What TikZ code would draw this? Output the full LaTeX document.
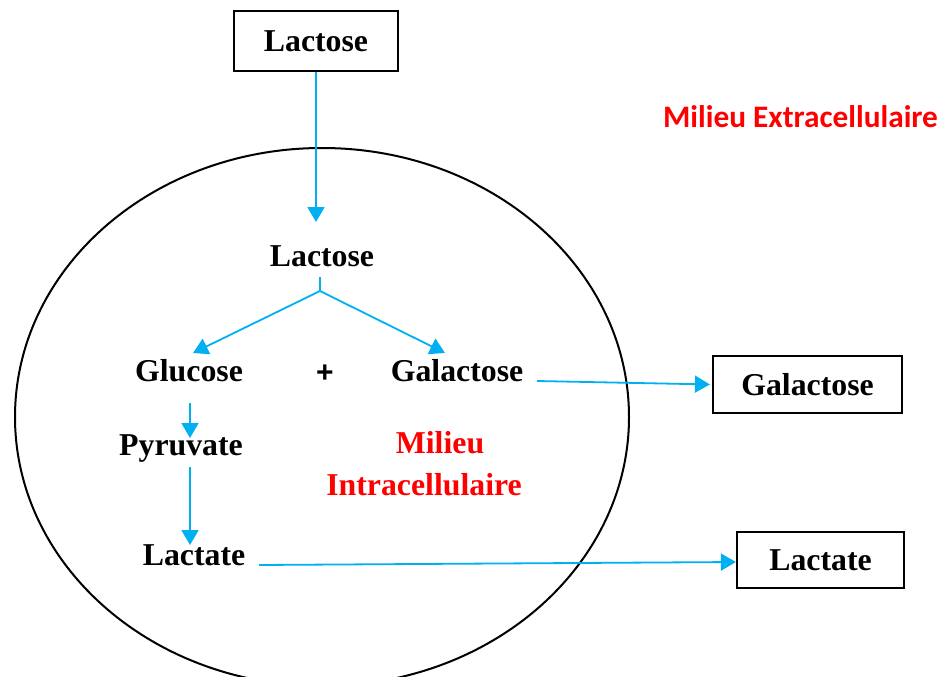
\documentclass[tikz,border=0pt]{standalone}
\usepackage{fontspec}
\setmainfont{Liberation Serif}
\newfontfamily\calibfont{Carlito}
\newfontfamily\plusfont{Liberation Sans}
\usetikzlibrary{arrows.meta,calc}
\definecolor{flowblue}{RGB}{0,176,240}
\definecolor{milieured}{RGB}{255,0,0}
\begin{document}
\begin{tikzpicture}[x=1pt,y=-1pt,
  lbl/.style={inner sep=0pt,anchor=base,font=\fontsize{31.8}{38}\selectfont\bfseries},
  boxnode/.style={draw,line width=2.2pt,inner sep=0pt,
    font=\fontsize{31.8}{38}\selectfont\bfseries},
  redlbl/.style={lbl,text=milieured},
  flow/.style={draw=flowblue,line width=1.8pt,
    -{Triangle[length=15pt,width=17pt]}},
  branch/.style={draw=flowblue,line width=1.8pt}]
\useasboundingbox (0,0) rectangle (946,677);
\clip (0,0) rectangle (946,677);

% cell membrane
\draw[line width=2pt] (322,417) ellipse [x radius=307pt, y radius=269pt];

% metabolites
\node[boxnode,minimum width=164pt,minimum height=60pt] (lacE) at (316,41) {Lactose};
\node[lbl] (lacI) at (322,266) {Lactose};
\node[lbl] (glu) at (189,381) {Glucose};
\node[lbl,font=\fontsize{30}{36}\selectfont\plusfont\bfseries] (plus) at (325,382) {+};
\node[lbl] (gal) at (457,381) {Galactose};
\node[lbl] (pyr) at (181,455) {Pyruvate};
\node[lbl] (lact) at (194,565) {Lactate};
\node[boxnode,minimum width=189pt,minimum height=57pt] (galE) at (807.5,384.5) {Galactose};
\node[boxnode,minimum width=167pt,minimum height=56pt] (lactE) at (820.5,560) {Lactate};

% compartment labels
\node[redlbl] (mi1) at (440,453) {Milieu};
\node[redlbl] (mi2) at (424,495) {Intracellulaire};
\node[inner sep=0pt,anchor=base,text=milieured,
  font=\fontsize{31.3}{37}\selectfont\calibfont\bfseries] (me) at (800.5,128) {Milieu Extracellulaire};

% lactose uptake
\coordinate (lacTip) at ($(lacE.south |- lacI.base)+(0,-44)$);
\draw[flow] (lacE.south) -- (lacTip);

% hydrolysis fork
\coordinate (forkTop) at ($(lacI.base)+(-2,11)$);
\coordinate (fork) at ($(lacI.base)+(-2,25)$);
\coordinate (gluTip) at ($(glu.base)+(4,-28)$);
\coordinate (galTip) at ($(gal.base)+(-12,-28)$);
\draw[branch] (forkTop) -- (fork);
\draw[flow] (fork) -- (gluTip);
\draw[flow] (fork) -- (galTip);

% glycolysis and fermentation
\coordinate (gpStart) at ($(glu.base)+(1,22)$);
\coordinate (gpTip) at ($(pyr.base)+(9,-17)$);
\draw[flow] (gpStart) -- (gpTip);
\coordinate (plStart) at ($(pyr.base)+(9,12)$);
\coordinate (plTip) at ($(lact.base)+(-4,-20)$);
\draw[flow] (plStart) -- (plTip);

% export out of the cell
\coordinate (galStart) at ($(gal.base)+(80,0)$);
\draw[flow,shorten >=2pt] (galStart) -- (galE.west);
\coordinate (lactStart) at ($(lact.base)+(65,0)$);
\draw[flow] (lactStart) -- ([yshift=-2pt]lactE.west);
\end{tikzpicture}
\end{document}
